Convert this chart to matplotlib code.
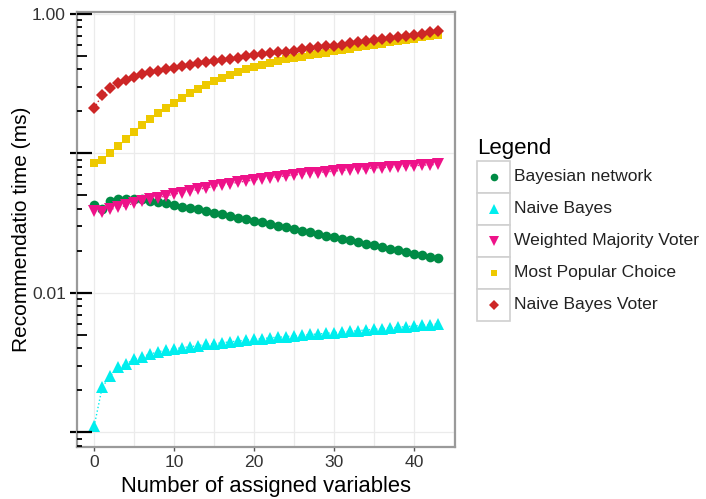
import matplotlib
matplotlib.use("Agg")
import matplotlib.pyplot as plt
from matplotlib.patches import Rectangle
from matplotlib.lines import Line2D
from matplotlib.ticker import MultipleLocator, NullLocator
from matplotlib.transforms import blended_transform_factory

plt.rcParams["font.family"] = ["Liberation Sans", "DejaVu Sans"]

# number of assigned variables (x axis)
n_assigned = list(range(44))

bayesian_network = [0.0428, 0.0400, 0.0456, 0.0469, 0.0474, 0.0474, 0.0469, 0.0459, 0.0451, 0.0439,
                    0.0428, 0.0416, 0.0407, 0.0398, 0.0387, 0.0377, 0.0367, 0.0357, 0.0347, 0.0338,
                    0.0328, 0.0321, 0.0312, 0.0304, 0.0296, 0.0288, 0.0280, 0.0272, 0.0265, 0.0258,
                    0.0251, 0.0244, 0.0238, 0.0231, 0.0225, 0.0219, 0.0213, 0.0207, 0.0202, 0.0197,
                    0.0191, 0.0187, 0.0182, 0.0177]
naive_bayes = [0.00111, 0.00211, 0.00254, 0.00293, 0.00310, 0.00335, 0.00349, 0.00365, 0.00378, 0.00390,
               0.00397, 0.00406, 0.00412, 0.00419, 0.00429, 0.00433, 0.00440, 0.00446, 0.00453, 0.00458,
               0.00466, 0.00470, 0.00478, 0.00481, 0.00487, 0.00492, 0.00498, 0.00504, 0.00508, 0.00514,
               0.00520, 0.00525, 0.00531, 0.00537, 0.00543, 0.00549, 0.00555, 0.00561, 0.00568, 0.00574,
               0.00580, 0.00586, 0.00593, 0.00600]
weighted_majority = [0.0387, 0.0381, 0.0397, 0.0410, 0.0424, 0.0438, 0.0453, 0.0468, 0.0482, 0.0496,
                     0.0510, 0.0524, 0.0538, 0.0552, 0.0566, 0.0580, 0.0594, 0.0608, 0.0621, 0.0633,
                     0.0646, 0.0658, 0.0670, 0.0681, 0.0691, 0.0701, 0.0711, 0.0720, 0.0730, 0.0738,
                     0.0747, 0.0755, 0.0763, 0.0770, 0.0778, 0.0786, 0.0792, 0.0798, 0.0805, 0.0812,
                     0.0818, 0.0823, 0.0829, 0.0834]
most_popular = [0.0859, 0.0898, 0.1003, 0.113, 0.127, 0.143, 0.160, 0.177, 0.194, 0.212,
                0.231, 0.249, 0.270, 0.290, 0.310, 0.331, 0.346, 0.365, 0.386, 0.401,
                0.419, 0.434, 0.448, 0.461, 0.473, 0.484, 0.495, 0.506, 0.517, 0.528,
                0.541, 0.552, 0.563, 0.575, 0.587, 0.599, 0.611, 0.625, 0.637, 0.651,
                0.664, 0.679, 0.692, 0.707]
naive_bayes_voter = [0.211, 0.263, 0.293, 0.319, 0.336, 0.355, 0.370, 0.382, 0.392, 0.403,
                     0.412, 0.424, 0.433, 0.443, 0.451, 0.460, 0.468, 0.476, 0.486, 0.496,
                     0.504, 0.514, 0.523, 0.531, 0.538, 0.547, 0.557, 0.566, 0.575, 0.585,
                     0.594, 0.604, 0.615, 0.625, 0.635, 0.646, 0.656, 0.667, 0.679, 0.692,
                     0.707, 0.722, 0.739, 0.759]

labels = ["Bayesian network", "Naive Bayes", "Weighted Majority Voter",
          "Most Popular Choice", "Naive Bayes Voter"]
series = [bayesian_network, naive_bayes, weighted_majority, most_popular, naive_bayes_voter]
colors = ["#008B45", "#00EEEE", "#EE1289", "#EEC900", "#CD2626"]
markers = ["o", "^", "v", "s", "D"]
sizes = [7.0, 8.6, 8.6, 6.3, 5.8]
legend_sizes = [5.5, 7.0, 7.0, 4.8, 4.6]

W, H = 706, 499
fig = plt.figure(figsize=(W / 100, H / 100), dpi=100)
# panel in pixels: left 77, right 455, top 12, bottom 447
ax = fig.add_axes([77 / W, 1 - 447 / H, 378 / W, 435 / H])

for vals, lab, col, mk, ms in zip(series, labels, colors, markers, sizes):
    ax.plot(n_assigned, vals, ls=":", lw=1.0, color=col, zorder=2)
    ax.plot(n_assigned, vals, ls="none", marker=mk, ms=ms, mew=0, color=col,
            label=lab, zorder=3)

ax.set_yscale("log")
ax.set_xlim(-2.15, 45.15)
ax.set_ylim(10 ** -3.104, 10 ** 0.014)

ax.set_xticks([0, 10, 20, 30, 40])
ax.xaxis.set_minor_locator(MultipleLocator(5))
ax.set_yticks([1, 0.1, 0.01, 0.001])
ax.set_yticklabels(["1.00", "", "0.01", ""])
ax.yaxis.set_minor_locator(NullLocator())

ax.tick_params(axis="x", which="major", length=3, width=1, color="#555555",
               labelsize=12.6, labelcolor="#333333", pad=3)
ax.tick_params(axis="x", which="minor", length=0)
ax.tick_params(axis="y", which="major", length=5, width=1.6, color="black",
               labelsize=12.6, labelcolor="#333333", pad=3)

ax.grid(which="major", color="#ebebeb", lw=0.9, zorder=0)
ax.grid(which="minor", axis="x", color="#ebebeb", lw=0.9, zorder=0)
ax.set_axisbelow(True)
for sp in ax.spines.values():
    sp.set_color("#9a9a9a")
    sp.set_linewidth(1.6)

# log tick annotations along the left side, drawn inward
trans = blended_transform_factory(ax.transAxes, ax.transData)
for decade in [1e-4, 1e-3, 1e-2, 1e-1, 1.0]:
    for m in range(1, 10):
        v = m * decade
        if v < 10 ** -3.104 or v > 10 ** 0.014:
            continue
        if m == 1:
            ln, lw = 15, 1.6
        elif m == 5:
            ln, lw = 10, 1.3
        else:
            ln, lw = 5, 1.3
        ax.plot([0, ln / 378], [v, v], color="black", lw=lw, transform=trans,
                clip_on=False, zorder=4, solid_capstyle="butt")

ax.set_xlabel("Number of assigned variables", fontsize=15.8, color="black", labelpad=4)
ax.set_ylabel("Recommendatio time (ms)", fontsize=15.0, color="black", labelpad=1)

# legend with a boxed key for each entry
def px(x, y):
    return x / W, 1 - y / H

fig.text(*px(477, 148), "Legend", fontsize=16, va="center", ha="left")
for i, (lab, col, mk, ms) in enumerate(zip(labels, colors, markers, legend_sizes)):
    top = 161 + 32 * i
    x0, y0 = px(477, top + 32)
    fig.add_artist(Rectangle((x0, y0), 33 / W, 32 / H, transform=fig.transFigure,
                             facecolor="white", edgecolor="#d0d0d0", lw=1.2))
    cx, cy = px(493.5, top + 16)
    fig.add_artist(Line2D([cx], [cy], marker=mk, ms=ms, mew=0, color=col,
                          transform=fig.transFigure))
    fig.text(*px(514, top + 16), lab, fontsize=12.6, va="center", ha="left",
             color="#222222")

fig.savefig("out.png", dpi=100)
